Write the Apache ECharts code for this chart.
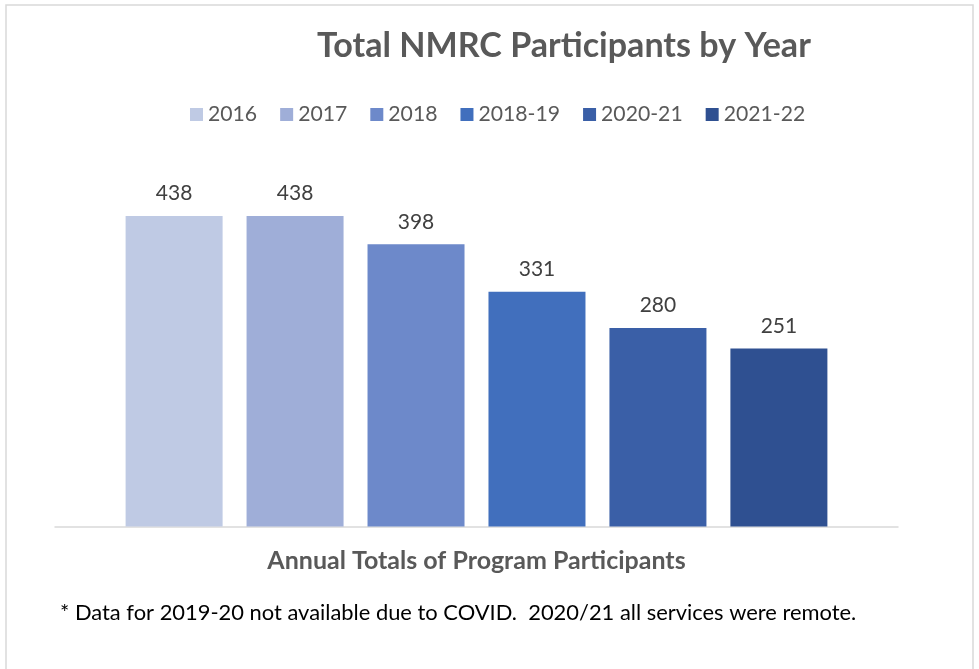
<!DOCTYPE html>
<html><head><meta charset="utf-8">
<script src="https://cdn.jsdelivr.net/npm/echarts@6/dist/echarts.min.js"></script>
<style>html,body{margin:0;padding:0;background:#fff}#main{width:979px;height:669px}</style>
</head><body><div id="main"></div>
<script>
// ---- data ----
const seriesNames = ['2016', '2017', '2018', '2018-19', '2020-21', '2021-22'];
const seriesValues = [438, 438, 398, 331, 280, 251];
const categories = ['Total'];
const colors = ['#BFCAE4', '#9FAED8', '#6D89CA', '#416FBD', '#3A5FA7', '#2F5091'];
const titleText = 'Total NMRC Participants by Year';
const axisNameText = 'Annual Totals of Program Participants';
const footnoteText = '* Data for 2019-20 not available due to COVID.  2020/21 all services were remote.';

const FONT = 'Lato';
function fit(text, weight, target) {
  const c = document.createElement('canvas').getContext('2d');
  c.font = weight + ' 100px ' + FONT;
  return Math.round(100 * target / c.measureText(text).width * 10) / 10;
}
const titleSize = fit(titleText, 'bold', 494);
const axisNameSize = fit(axisNameText, 'bold', 419);
const footSize = fit(footnoteText, 'normal', 798);

const chart = echarts.init(document.getElementById('main'), null, {renderer: 'canvas'});
const series = seriesNames.map((n, i) => ({
  name: n,
  type: 'bar',
  data: [seriesValues[i]],
  barWidth: 97,
  barGap: '24.7%',
  itemStyle: {color: colors[i]},
  label: {show: true, position: 'top', distance: 12, fontFamily: FONT, fontSize: 21, color: '#404040'}
}));

chart.setOption({
  animation: false,
  backgroundColor: '#fff',
  textStyle: {fontFamily: FONT},
  graphic: [{type: 'rect', shape: {x: 6, y: 5, width: 967, height: 680}, style: {fill: 'none', stroke: '#d9d9d9', lineWidth: 1.5}, silent: true}],
  title: [
    {text: titleText, left: 312, top: 24, textStyle: {fontFamily: FONT, fontWeight: 'bold', fontSize: titleSize, color: '#595959'}},
    {text: footnoteText, left: 55, top: 597, textStyle: {fontFamily: FONT, fontWeight: 'normal', fontSize: footSize, color: '#000'}}
  ],
  legend: {
    left: 190, top: 104, padding: 0,
    itemWidth: 13, itemHeight: 13, itemGap: 23,
    icon: 'rect',
    textStyle: {fontFamily: FONT, fontSize: 21.2, color: '#595959'},
    data: seriesNames
  },
  grid: {left: 55, right: 81, top: 172, bottom: 142.5},
  xAxis: {
    type: 'category', data: categories,
    axisLine: {lineStyle: {color: '#d9d9d9', width: 1.5}},
    axisTick: {show: false}, axisLabel: {show: false},
    name: axisNameText, nameLocation: 'middle', nameGap: 22,
    nameTextStyle: {fontFamily: FONT, fontWeight: 'bold', fontSize: axisNameSize, color: '#595959'}
  },
  yAxis: {type: 'value', min: 0, max: 500, show: false, splitLine: {show: false}},
  series: series
});
</script></body></html>
